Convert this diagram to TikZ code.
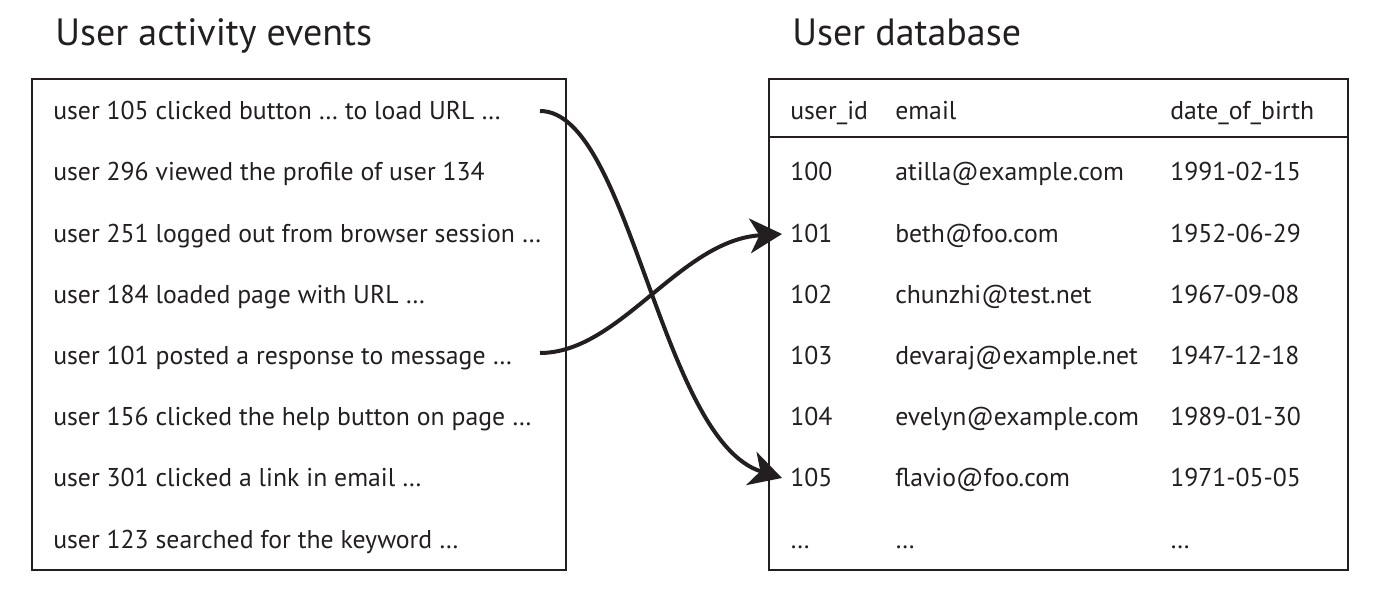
\documentclass[tikz,border=0pt]{standalone}
\usepackage{fontspec}
\setmainfont{PT Sans}
\usetikzlibrary{arrows.meta}
\definecolor{ink}{RGB}{35,31,32}
\begin{document}
\begin{tikzpicture}[x=0.75pt,y=-0.75pt,
  txt/.style={anchor=west,inner sep=0pt,text height=13pt,text depth=0pt,text=ink,font=\fontsize{19.3}{19.3}\selectfont},
  ttl/.style={anchor=base west,inner sep=0pt,text=ink,font=\fontsize{28.5}{28.5}\selectfont},
  frame/.style={draw=ink,line width=1.2pt},
  link/.style={draw=ink,line width=3pt,-{Stealth[length=24pt,width=26pt,inset=7pt]}}]
\useasboundingbox (0,0) rectangle (1377,595);
% titles
\node[ttl] (t1) at (55,46) {User activity events};
\node[ttl] (t2) at (792,46) {User database};
% boxes
\draw[frame] (32,79) rectangle (566,570);
\draw[frame] (769,79) rectangle (1348,570);
\draw[draw=ink,line width=1pt] (769,137) -- (1348,137);
% events
\node[txt] (e1) at (53,111) {user 105 clicked button … to load URL …};
\node[txt] (e2) at (53,172) {user 296 viewed the profile of user 134};
\node[txt] (e3) at (53,234) {user 251 logged out from browser session …};
\node[txt] (e4) at (53,295) {user 184 loaded page with URL …};
\node[txt] (e5) at (53,356) {user 101 posted a response to message …};
\node[txt] (e6) at (53,417) {user 156 clicked the help button on page …};
\node[txt] (e7) at (53,478) {user 301 clicked a link in email …};
\node[txt] (e8) at (53,540) {user 123 searched for the keyword …};
% table header
\node[txt] (h1) at (790,111) {user\_id};
\node[txt] (h2) at (895,111) {email};
\node[txt] (h3) at (1170,111) {date\_of\_birth};
% rows
\node[txt] (i100) at (790,172) {100};
\node[txt] (m100) at (895,172) {atilla@example.com};
\node[txt] (d100) at (1170,172) {1991-02-15};
\node[txt] (i101) at (790,234) {101};
\node[txt] (m101) at (895,234) {beth@foo.com};
\node[txt] (d101) at (1170,234) {1952-06-29};
\node[txt] (i102) at (790,295) {102};
\node[txt] (m102) at (895,295) {chunzhi@test.net};
\node[txt] (d102) at (1170,295) {1967-09-08};
\node[txt] (i103) at (790,356) {103};
\node[txt] (m103) at (895,356) {devaraj@example.net};
\node[txt] (d103) at (1170,356) {1947-12-18};
\node[txt] (i104) at (790,417) {104};
\node[txt] (m104) at (895,417) {evelyn@example.com};
\node[txt] (d104) at (1170,417) {1989-01-30};
\node[txt] (i105) at (790,478) {105};
\node[txt] (m105) at (895,478) {flavio@foo.com};
\node[txt] (d105) at (1170,478) {1971-05-05};
\node[txt] (ix) at (790,540) {…};
\node[txt] (mx) at (895,540) {…};
\node[txt] (dx) at (1170,540) {…};
% connectors
\coordinate (s1) at (540,111);
\coordinate (s2) at (540,353);
\draw[link] (s1) .. controls +(90,0) and +(-122,-38) .. ([xshift=-6pt]i105.west);
\draw[link] (s2) .. controls +(80,0) and +(-102,6) .. ([xshift=-6pt]i101.west);
\end{tikzpicture}
\end{document}
